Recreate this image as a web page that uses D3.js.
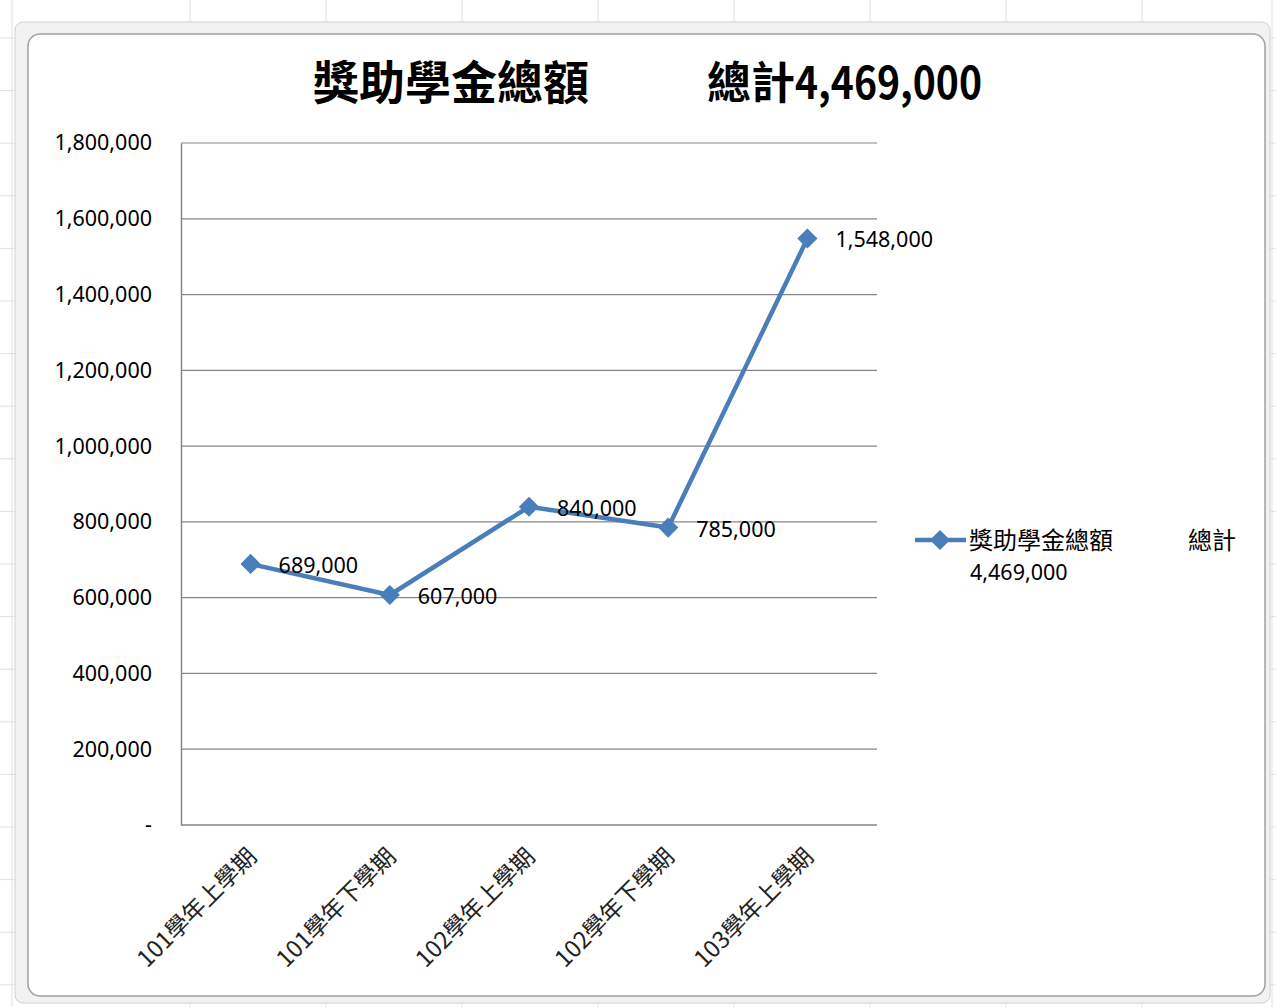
<!DOCTYPE html>
<html><head><meta charset="utf-8">
<script src="https://cdn.jsdelivr.net/npm/d3@7/dist/d3.min.js"></script>
<style>body{margin:0;background:#fff;}svg{display:block;}</style>
</head><body>
<svg id="c" width="1276" height="1007"></svg>
<script>
const categories = ["101學年上學期","101學年下學期","102學年上學期","102學年下學期","103學年上學期"];
const values = [689000, 607000, 840000, 785000, 1548000];
const yTicks = [0,200000,400000,600000,800000,1000000,1200000,1400000,1600000,1800000];
const seriesName = "獎助學金總額";
const totalLabel = "總計";
const total = 4469000;

const svg = d3.select("#c");
const fmt = d3.format(",");
const cjk = "'Noto Sans CJK TC','Noto Sans',sans-serif";
const num = "'Noto Sans','Open Sans',sans-serif";

// spreadsheet background grid
const gridG = svg.append("g");
const colXs = [190,326,462,598,734,870,1006,1142];
const rowYs = d3.range(38, 1007, 52.6);
colXs.forEach(x=>gridG.append("line").attr("x1",x).attr("x2",x).attr("y1",0).attr("y2",1007).attr("stroke","#e0e0e0"));
rowYs.forEach(y=>gridG.append("line").attr("x1",0).attr("x2",1276).attr("y1",y).attr("y2",y).attr("stroke","#e0e0e0"));
gridG.append("line").attr("x1",12).attr("x2",12).attr("y1",0).attr("y2",1007).attr("stroke","#e0e0e0");
gridG.append("line").attr("x1",1272).attr("x2",1272).attr("y1",0).attr("y2",1007).attr("stroke","#e0e0e0");

// chart frame
svg.append("rect").attr("x",15).attr("y",22).attr("width",1255).attr("height",981).attr("rx",8)
  .attr("fill","#f2f2f2").attr("stroke","#d0d0d0");
svg.append("rect").attr("x",28).attr("y",34).attr("width",1237).attr("height",962).attr("rx",12)
  .attr("fill","#fff").attr("stroke","#a0a0a0").attr("stroke-width",1.5);

// scales
const x = d3.scalePoint().domain(categories).range([181,877]).padding(0.5);
const y = d3.scaleLinear().domain([0,1800000]).range([825,143]);

// gridlines
svg.append("g").selectAll("line").data(yTicks.slice(1)).join("line")
  .attr("x1",181).attr("x2",877).attr("y1",d=>y(d)).attr("y2",d=>y(d))
  .attr("stroke","#868686").attr("stroke-width",1.2);

// axes
const yAxis = svg.append("g").attr("transform","translate(181,0)")
  .call(d3.axisLeft(y).tickValues(yTicks).tickSize(0).tickPadding(29).tickFormat(d=>d===0?"-":fmt(d)));
yAxis.select(".domain").attr("stroke","#868686").attr("stroke-width",1.5);
yAxis.selectAll("text").attr("font-family",num).attr("font-size","21.5px").attr("fill","#000");

const xAxis = svg.append("g").attr("transform","translate(0,825)")
  .call(d3.axisBottom(x).tickSize(0).tickPadding(0));
xAxis.select(".domain").attr("stroke","#868686").attr("stroke-width",1.5).attr("d","M181,0H877");
xAxis.selectAll("text")
  .attr("font-family",cjk).attr("font-size","23.5px").attr("fill","#222")
  .attr("text-anchor","end").attr("dy","0")
  .attr("transform","translate(7,33) rotate(-45)");

// line
const color = "#4a7ebb";
const line = d3.line().x((d,i)=>x(categories[i])).y(d=>y(d));
svg.append("path").datum(values).attr("d",line).attr("fill","none")
  .attr("stroke",color).attr("stroke-width",4.5).attr("stroke-linejoin","round");
const diamond = d3.symbol().type(d3.symbolDiamond2).size(260);
svg.append("g").selectAll("path").data(values).join("path")
  .attr("d",diamond).attr("fill",color)
  .attr("transform",(d,i)=>`translate(${x(categories[i])},${y(d)})`);

// data labels
svg.append("g").selectAll("text").data(values).join("text")
  .attr("x",(d,i)=>x(categories[i])+28).attr("y",d=>y(d)+9)
  .attr("font-family",num).attr("font-size","21.5px").attr("fill","#000")
  .text(d=>fmt(d));

// title
const title = svg.append("text").attr("y",99).attr("font-family",cjk).attr("font-weight","bold")
  .attr("fill","#000");
title.append("tspan").attr("x",313).attr("font-size","46px").text(seriesName);
title.append("tspan").attr("x",707).attr("font-size","44px").text(totalLabel);
title.append("tspan").attr("x",795).attr("font-size","44px")
  .attr("textLength",187).attr("lengthAdjust","spacingAndGlyphs").text(fmt(total));

// legend
svg.append("line").attr("x1",915).attr("x2",966).attr("y1",540).attr("y2",540)
  .attr("stroke",color).attr("stroke-width",4.5);
svg.append("path").attr("d",diamond).attr("fill",color).attr("transform","translate(940,540)");
const lg = svg.append("text").attr("font-family",cjk).attr("font-size","24px").attr("fill","#000");
lg.append("tspan").attr("x",969).attr("y",549).text(seriesName);
lg.append("tspan").attr("x",1188).attr("y",549).text(totalLabel);
svg.append("text").attr("x",970).attr("y",580).attr("font-family",num).attr("font-size","21.5px")
  .attr("fill","#000").text(fmt(total));
</script>
</body></html>
